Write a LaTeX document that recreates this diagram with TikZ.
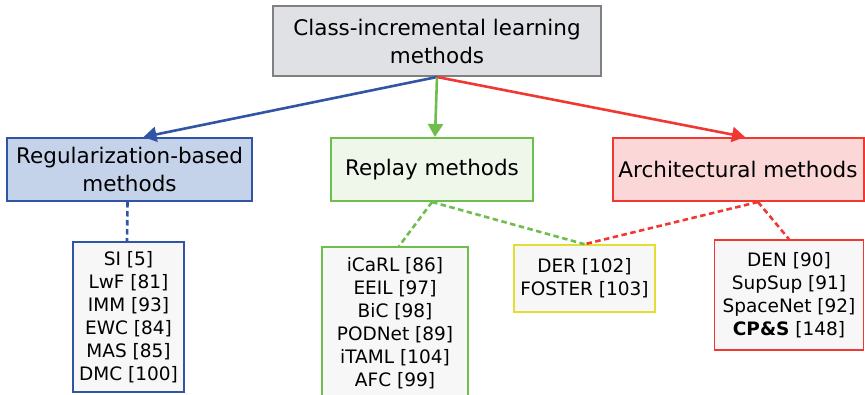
\documentclass[tikz,border=0pt]{standalone}
\usepackage{fontspec}
\setmainfont{DejaVu Sans}
\usetikzlibrary{arrows.meta}
\definecolor{topfill}{RGB}{224,225,228}
\definecolor{topdraw}{RGB}{128,128,128}
\definecolor{bluefill}{RGB}{197,211,234}
\definecolor{bluedraw}{RGB}{47,85,164}
\definecolor{greenfill}{RGB}{239,247,235}
\definecolor{greendraw}{RGB}{110,190,78}
\definecolor{redfill}{RGB}{252,215,215}
\definecolor{reddraw}{RGB}{240,55,50}
\definecolor{listfill}{RGB}{247,247,247}
\definecolor{yellowdraw}{RGB}{228,222,50}
\tikzset{
  mainbox/.style={draw, line width=2pt, inner sep=0pt, align=center,
    font=\fontsize{21.5}{28}\selectfont},
  listbox/.style={draw, fill=listfill, line width=1.6pt, inner sep=0pt, align=center,
    font=\fontsize{18.5}{23}\selectfont},
  arr/.style={line width=2.6pt, -{Triangle[length=13pt,width=15pt]}},
  dashline/.style={line width=2.6pt, dash pattern=on 5.5pt off 3.5pt},
}
\begin{document}
\begin{tikzpicture}[x=1pt,y=-1pt]
\useasboundingbox (0,0) rectangle (865,394);
\node[mainbox, fill=topfill, draw=topdraw, minimum width=328pt, minimum height=70pt] (top) at (437,41) {Class-incremental learning\\methods};
\node[mainbox, fill=bluefill, draw=bluedraw, minimum width=245pt, minimum height=63pt] (reg) at (129.5,169.5) {Regularization-based\\methods};
\node[mainbox, fill=greenfill, draw=greendraw, minimum width=202pt, minimum height=63pt] (rep) at (432,169.5) {Replay methods};
\node[mainbox, fill=redfill, draw=reddraw, minimum width=251pt, minimum height=63pt] (arch) at (738,169.5) {Architectural methods};

\node[listbox, draw=bluedraw, minimum width=111pt, minimum height=150pt] (regl) at (128.5,317) {SI [5]\\LwF [81]\\IMM [93]\\EWC [84]\\MAS [85]\\DMC [100]};
\node[listbox, draw=greendraw, minimum width=146pt, minimum height=153pt] (repl) at (395,323.5) {iCaRL [86]\\EEIL [97]\\BiC [98]\\PODNet [89]\\iTAML [104]\\AFC [99]};
\node[listbox, draw=yellowdraw, minimum width=141pt, minimum height=67pt] (der) at (584.5,278.5) {DER [102]\\FOSTER [103]};
\node[listbox, draw=reddraw, minimum width=149pt, minimum height=110pt] (archl) at (789,295) {DEN [90]\\SupSup [91]\\SpaceNet [92]\\\textbf{CP\&S} [148]};

\draw[arr, bluedraw] (top.south) -- ([xshift=14pt]reg.north);
\draw[arr, greendraw] (top.south) -- ([xshift=3pt]rep.north);
\draw[arr, reddraw] (top.south) -- ([xshift=7pt]arch.north);

\draw[dashline, bluedraw] ([xshift=-2pt]reg.south) -- ([xshift=-1.5pt]regl.north);
\draw[dashline, greendraw] (rep.south) -- ([xshift=4pt]repl.north);
\draw[dashline, greendraw] (rep.south) -- (der.north);
\draw[dashline, reddraw] ([xshift=20pt]arch.south) -- (der.north);
\draw[dashline, reddraw] ([xshift=20pt]arch.south) -- (archl.north);
\end{tikzpicture}
\end{document}
